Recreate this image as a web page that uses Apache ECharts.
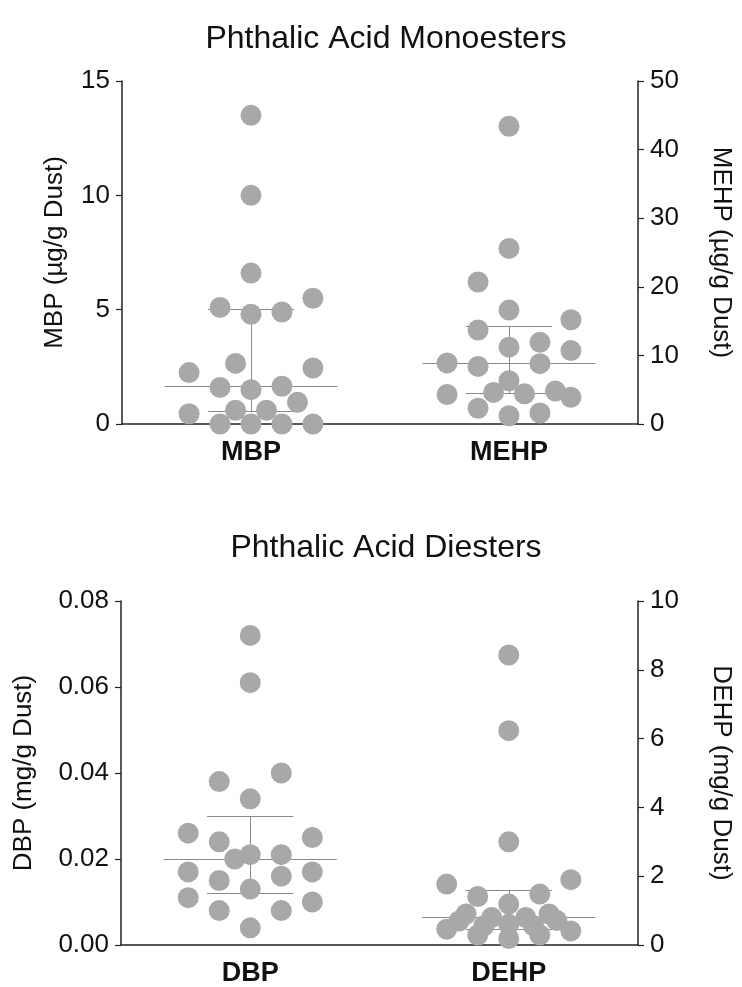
<!DOCTYPE html>
<html>
<head>
<meta charset="utf-8">
<script src="https://cdn.jsdelivr.net/npm/echarts@6/dist/echarts.min.js"></script>
<style>
  html, body { margin: 0; padding: 0; background: #fff; }
  #chart { width: 742px; height: 987px; }
</style>
</head>
<body>
<div id="chart"></div>
<script>
// ****************************************************************** data
// each dot: value, and its column in the dot stack (half-column steps)
var mbpValues  = [13.5, 10.0, 6.6, 5.1, 4.8, 4.9, 5.5, 2.65, 2.25, 2.45, 1.6, 1.5, 1.65, 0.95, 0.45, 0.6, 0.6, 0, 0, 0, 0];
var mbpCols    = [0, 0, 0, -2, 0, 2, 4, -1, -4, 4, -2, 0, 2, 3, -4, -1, 1, -2, 0, 2, 4];
var mehpValues = [43.4, 25.6, 20.7, 16.6, 15.2, 13.7, 11.2, 11.9, 10.7, 8.9, 8.4, 8.8, 6.3, 4.3, 4.6, 4.4, 4.8, 3.9, 2.3, 1.2, 1.6];
var mehpCols   = [0, 0, -2, 0, 4, -2, 0, 2, 4, -4, -2, 2, 0, -4, -1, 1, 3, 4, -2, 0, 2];
var dbpValues  = [0.072, 0.061, 0.040, 0.038, 0.034, 0.026, 0.025, 0.024, 0.020, 0.021, 0.021, 0.017, 0.017, 0.015, 0.016, 0.013, 0.011, 0.010, 0.008, 0.008, 0.004];
var dbpCols    = [0, 0, 2, -2, 0, -4, 4, -2, -1, 0, 2, -4, 4, -2, 2, 0, -4, 4, -2, 2, 0];
var dehpValues = [8.43, 6.23, 3.0, 1.9, 1.77, 1.41, 1.48, 1.19, 0.90, 0.70, 0.46, 0.90, 0.71, 0.41, 0.80, 0.80, 0.56, 0.60, 0.56, 0.29, 0.19, 0.29];
var dehpCols   = [0, 0, 0, 4, -4, -2, 2, 0, -2.75, -3.2, -4, 2.6, 3.1, 4, -1.1, 1.1, -1.6, 0, 1.6, -2, 0, 2];

// median and interquartile range lines
var monoMedian = [1.65, 8.8];
var monoQ1     = [0.55, 4.5];
var monoQ3     = [5.0, 14.3];
var diMedian   = [0.020, 0.80];
var diQ1       = [0.012, 0.45];
var diQ3       = [0.030, 1.60];

var monoNames = ['MBP', 'MEHP'];
var diNames   = ['DBP', 'DEHP'];

// left / right axis ranges and ticks
var monoLeft  = { min: 0, max: 15, interval: 5 };
var monoRight = { min: 0, max: 50, interval: 10 };
var diLeft    = { min: 0, max: 0.08, interval: 0.02 };
var diRight   = { min: 0, max: 10, interval: 2 };

// ****************************************************************** helpers
var FONT = 'Liberation Sans, Arial, sans-serif';
var DOT = '#a8a8a8';
var LINE = '#8a8a8a';
var colStep = 0.06;   // x units per half column
var medHalf = 0.335;
var iqrHalf = 0.167;

function dots(values, cols, cat) {
    return values.map(function (v, i) { return [cat + cols[i] * colStep, v]; });
}

function summary(cat, med, q1, q3) {
    return [
        { coords: [[cat - medHalf, med], [cat + medHalf, med]] },
        { coords: [[cat - iqrHalf, q3], [cat + iqrHalf, q3]] },
        { coords: [[cat - iqrHalf, q1], [cat + iqrHalf, q1]] },
        { coords: [[cat, q1], [cat, q3]] }
    ];
}

function xAxis(grid, names) {
    return {
        type: 'value', gridIndex: grid, min: 0.5, max: 2.5, interval: 0.5,
        axisLine: { lineStyle: { color: '#222', width: 1.5 } },
        axisTick: { show: false },
        splitLine: { show: false },
        axisLabel: {
            margin: 15, fontFamily: FONT, fontSize: 27, fontWeight: 'bold', color: '#111',
            formatter: function (v) { return v === 1 ? names[0] : (v === 2 ? names[1] : ''); }
        }
    };
}

function yAxis(grid, pos, range, name, gap, digits) {
    return {
        type: 'value', gridIndex: grid, position: pos,
        min: range.min, max: range.max, interval: range.interval,
        name: name, nameLocation: 'middle', nameGap: gap,
        nameRotate: pos === 'left' ? 90 : -90,
        nameTextStyle: { fontFamily: FONT, fontSize: 26, color: '#111' },
        axisLine: { show: true, lineStyle: { color: '#222', width: 1.5 } },
        axisTick: { show: true, length: 6, lineStyle: { color: '#222', width: 1.2 } },
        splitLine: { show: false },
        axisLabel: {
            margin: 12, fontFamily: FONT, fontSize: 26, color: '#111',
            formatter: function (v) { return v.toFixed(digits); }
        }
    };
}

function scatter(x, y, data) {
    return {
        type: 'scatter', xAxisIndex: x, yAxisIndex: y, data: data,
        symbolSize: 21, z: 3,
        itemStyle: { color: DOT, opacity: 1 }
    };
}

function lines(x, y, data) {
    return {
        type: 'lines', coordinateSystem: 'cartesian2d', xAxisIndex: x, yAxisIndex: y,
        data: data, z: 2, silent: true,
        lineStyle: { color: LINE, width: 1, opacity: 1 }
    };
}

// ****************************************************************** chart
var chart = echarts.init(document.getElementById('chart'));

var option = {
    animation: false,
    backgroundColor: '#fff',
    title: [
        { text: 'Phthalic Acid Monoesters', left: 381, top: 18, textAlign: 'center',
          textStyle: { fontFamily: FONT, fontSize: 32, fontWeight: 'normal', color: '#111' } },
        { text: 'Phthalic Acid Diesters', left: 381, top: 527, textAlign: 'center',
          textStyle: { fontFamily: FONT, fontSize: 32, fontWeight: 'normal', color: '#111' } }
    ],
    grid: [
        { left: 122, right: 102, top: 81, height: 343 },
        { left: 121, right: 102, top: 601, height: 345 }
    ],
    xAxis: [xAxis(0, monoNames), xAxis(1, diNames)],
    yAxis: [
        yAxis(0, 'left', monoLeft, 'MBP (µg/g Dust)', 54, 0),
        yAxis(0, 'right', monoRight, 'MEHP (µg/g Dust)', 70, 0),
        yAxis(1, 'left', diLeft, 'DBP (mg/g Dust)', 84, 2),
        yAxis(1, 'right', diRight, 'DEHP (mg/g Dust)', 70, 0)
    ],
    series: [
        lines(0, 0, summary(1, monoMedian[0], monoQ1[0], monoQ3[0])),
        lines(0, 1, summary(2, monoMedian[1], monoQ1[1], monoQ3[1])),
        lines(1, 2, summary(1, diMedian[0], diQ1[0], diQ3[0])),
        lines(1, 3, summary(2, diMedian[1], diQ1[1], diQ3[1])),
        scatter(0, 0, dots(mbpValues, mbpCols, 1)),
        scatter(0, 1, dots(mehpValues, mehpCols, 2)),
        scatter(1, 2, dots(dbpValues, dbpCols, 1)),
        scatter(1, 3, dots(dehpValues, dehpCols, 2))
    ]
};

chart.setOption(option);
</script>
</body>
</html>
